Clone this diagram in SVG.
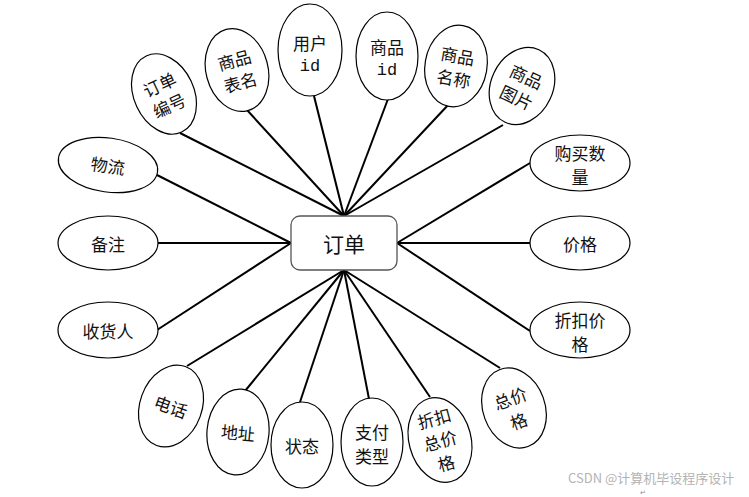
<svg xmlns="http://www.w3.org/2000/svg" width="749" height="497" viewBox="0 0 749 497">
<style>
.e{fill:#fff;stroke:#000;stroke-width:1.2}
.t{font-family:"Noto Sans CJK SC","Noto Sans CJK JP",sans-serif;font-size:17px;fill:#111;text-anchor:middle;dominant-baseline:central}
.m{font-family:"Liberation Mono",monospace;font-size:17px;fill:#111;text-anchor:middle;dominant-baseline:central}
#connectors line{stroke:#000;stroke-width:2}
</style>
<rect width="749" height="497" fill="#fff"/>
<g id="connectors">
<line x1="180" y1="133" x2="344" y2="216"/>
<line x1="247" y1="110" x2="344" y2="216"/>
<line x1="314" y1="96" x2="344" y2="216"/>
<line x1="388" y1="99" x2="344" y2="216"/>
<line x1="449" y1="104" x2="344" y2="216"/>
<line x1="503" y1="125" x2="344" y2="216"/>
<line x1="157" y1="175" x2="291" y2="243"/>
<line x1="157" y1="243" x2="291" y2="243"/>
<line x1="157" y1="330" x2="291" y2="243"/>
<line x1="530" y1="163" x2="397" y2="243"/>
<line x1="530" y1="243" x2="397" y2="243"/>
<line x1="530" y1="331" x2="397" y2="243"/>
<line x1="187" y1="366" x2="344" y2="270"/>
<line x1="245" y1="391" x2="344" y2="270"/>
<line x1="300" y1="402" x2="344" y2="270"/>
<line x1="369" y1="399" x2="344" y2="270"/>
<line x1="430" y1="397" x2="344" y2="270"/>
<line x1="500" y1="368" x2="344" y2="270"/>
</g>
<g id="order">
<rect x="291" y="216" width="106" height="54" rx="9" fill="#fff" stroke="#555" stroke-width="1.3"/>
<text class="t" x="344" y="243" style="font-size:21px">订单</text>
</g>
<g id="n_ddbh" transform="translate(164,94) rotate(-25)">
<ellipse class="e" rx="30" ry="42"/>
<text class="t" y="-11">订单</text><text class="t" y="12">编号</text>
</g>
<g id="n_spbm" transform="translate(237,70) rotate(-15)">
<ellipse class="e" rx="31" ry="42"/>
<text class="t" y="-11">商品</text><text class="t" y="12">表名</text>
</g>
<g id="n_yhid" transform="translate(310,50)">
<ellipse class="e" rx="32" ry="46"/>
<text class="t" y="-8">用户</text><text class="m" y="16">id</text>
</g>
<g id="n_spid" transform="translate(387,56)">
<ellipse class="e" rx="31" ry="44"/>
<text class="t" y="-10">商品</text><text class="m" y="14">id</text>
</g>
<g id="n_spmc" transform="translate(456,66) rotate(10)">
<ellipse class="e" rx="31" ry="41"/>
<text class="t" y="-11">商品</text><text class="t" y="12">名称</text>
</g>
<g id="n_sptp" transform="translate(522,86) rotate(25)">
<ellipse class="e" rx="31" ry="40"/>
<text class="t" y="-11">商品</text><text class="t" y="12">图片</text>
</g>
<g id="n_wl" transform="translate(108,165) rotate(8)">
<ellipse class="e" rx="50" ry="27"/>
<text class="t">物流</text>
</g>
<g id="n_bz" transform="translate(108,243)">
<ellipse class="e" rx="50" ry="27"/>
<text class="t">备注</text>
</g>
<g id="n_shr" transform="translate(108,330)">
<ellipse class="e" rx="50" ry="28"/>
<text class="t">收货人</text>
</g>
<g id="n_gmsl" transform="translate(580,163)">
<ellipse class="e" rx="50" ry="28"/>
<text class="t" y="-11">购买数</text><text class="t" y="13">量</text>
</g>
<g id="n_jg" transform="translate(580,243)">
<ellipse class="e" rx="50" ry="27"/>
<text class="t">价格</text>
</g>
<g id="n_zkjg" transform="translate(580,330)">
<ellipse class="e" rx="50" ry="28"/>
<text class="t" y="-11">折扣价</text><text class="t" y="13">格</text>
</g>
<g id="n_dh" transform="translate(171,406) rotate(20)">
<ellipse class="e" rx="31" ry="42"/>
<text class="t">电话</text>
</g>
<g id="n_dz" transform="translate(238,432) rotate(5)">
<ellipse class="e" rx="31" ry="43"/>
<text class="t">地址</text>
</g>
<g id="n_zt" transform="translate(302,445)">
<ellipse class="e" rx="31" ry="43"/>
<text class="t">状态</text>
</g>
<g id="n_zflx" transform="translate(372,442)">
<ellipse class="e" rx="31" ry="44"/>
<text class="t" y="-11">支付</text><text class="t" y="13">类型</text>
</g>
<g id="n_zkzjg" transform="translate(440,440) rotate(-15)">
<ellipse class="e" rx="31" ry="43"/>
<text class="t" y="-23">折扣</text><text class="t" y="0">总价</text><text class="t" y="23">格</text>
</g>
<g id="n_zjg" transform="translate(514,408) rotate(-20)">
<ellipse class="e" rx="31" ry="41"/>
<text class="t" y="-11">总价</text><text class="t" y="13">格</text>
</g>
<text x="568" y="483" font-family="'Noto Sans CJK SC',sans-serif" font-size="13" fill="#b3b3b3">CSDN @计算机毕设程序设计</text>
<text x="640" y="495" font-family="'DejaVu Sans',sans-serif" font-size="7" fill="#888">↵</text>
</svg>
